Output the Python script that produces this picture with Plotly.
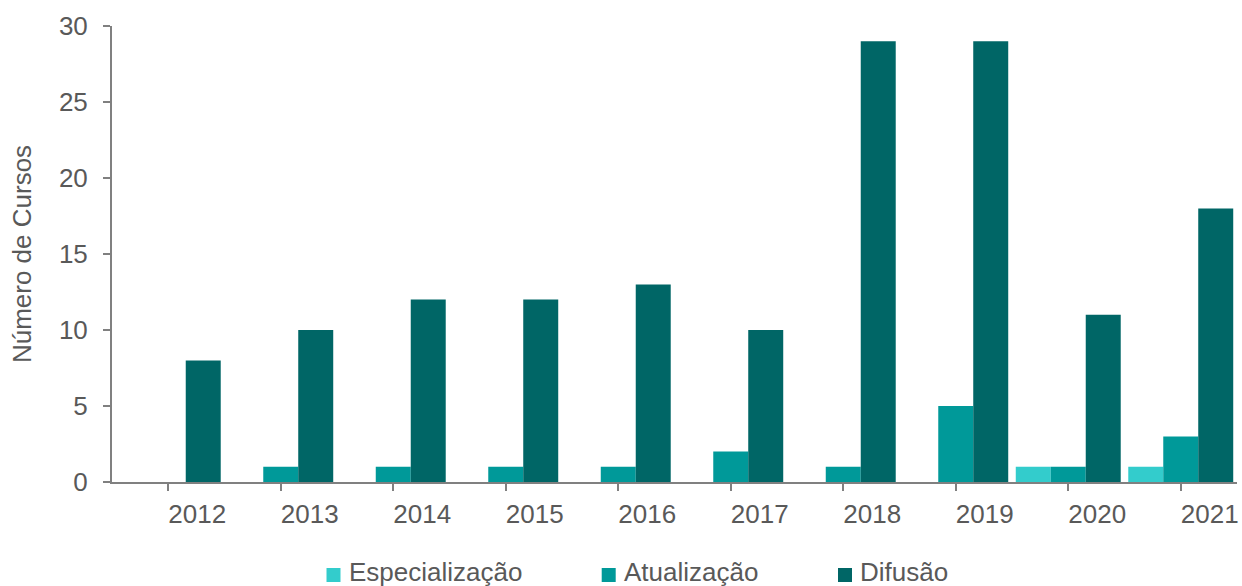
import plotly.graph_objects as go

# Courses per year, by type
anos = ["2012", "2013", "2014", "2015", "2016", "2017", "2018", "2019", "2020", "2021"]
especializacao = [0, 0, 0, 0, 0, 0, 0, 0, 1, 1]
atualizacao = [0, 1, 1, 1, 1, 2, 1, 5, 1, 3]
difusao = [8, 10, 12, 12, 13, 10, 29, 29, 11, 18]

series = [
    ("Especialização", especializacao, "#33CCCC"),
    ("Atualização", atualizacao, "#009999"),
    ("Difusão", difusao, "#006666"),
]

W, H = 1242, 586
ML, MR, MT, MB = 112, 5, 26, 104
PW, PH = W - ML - MR, H - MT - MB

FONT = "Liberation Sans, Arial, sans-serif"
TXT = "#595959"
AXIS = "#808080"


def px_to_paper(px, py):
    return (px - ML) / PW, (H - MB - py) / PH


fig = go.Figure()
for name, vals, color in series:
    fig.add_trace(go.Bar(
        x=anos, y=vals, name=name,
        marker=dict(color=color, line=dict(width=0)),
        showlegend=False,
    ))

# Legend built from swatches and text labels along the bottom
legend_pos = [(333.5, 347), (608.7, 622), (845, 858)]
shapes, annotations = [], []
for (name, _, color), (sq_x, tx_x) in zip(series, legend_pos):
    sx, sy = px_to_paper(sq_x, 575)
    shapes.append(dict(
        type="rect", xref="paper", yref="paper",
        xsizemode="pixel", ysizemode="pixel",
        xanchor=sx, yanchor=sy, x0=-7, x1=7, y0=-7, y1=7,
        fillcolor=color, line=dict(width=0),
    ))
    ax, ay = px_to_paper(tx_x, 572)
    annotations.append(dict(
        text=name, xref="paper", yref="paper", x=ax, y=ay,
        xanchor="left", yanchor="middle", showarrow=False,
        font=dict(family=FONT, size=26, color=TXT),
    ))

fig.update_layout(
    width=W, height=H,
    margin=dict(l=ML, r=MR, t=MT, b=MB, autoexpand=False),
    paper_bgcolor="white", plot_bgcolor="white",
    barmode="group", bargap=0.067, bargroupgap=0,
    font=dict(family=FONT, size=26, color=TXT),
    shapes=shapes, annotations=annotations,
    xaxis=dict(
        type="category", showline=True, linecolor=AXIS, linewidth=2,
        ticks="outside", ticklen=7, tickwidth=2, tickcolor=AXIS,
        showgrid=False, ticklabelshift=29, ticklabelstandoff=1,
        tickfont=dict(family=FONT, size=26, color=TXT),
    ),
    yaxis=dict(
        range=[0, 30], tick0=0, dtick=5,
        showline=True, linecolor=AXIS, linewidth=2,
        ticks="outside", ticklen=7, tickwidth=2, tickcolor=AXIS,
        showgrid=False, zeroline=False, ticklabelstandoff=10,
        tickfont=dict(family=FONT, size=26, color=TXT),
        title=dict(text="Número de Cursos", standoff=20,
                   font=dict(family=FONT, size=26, color=TXT)),
    ),
)

fig.write_html("out.html")
